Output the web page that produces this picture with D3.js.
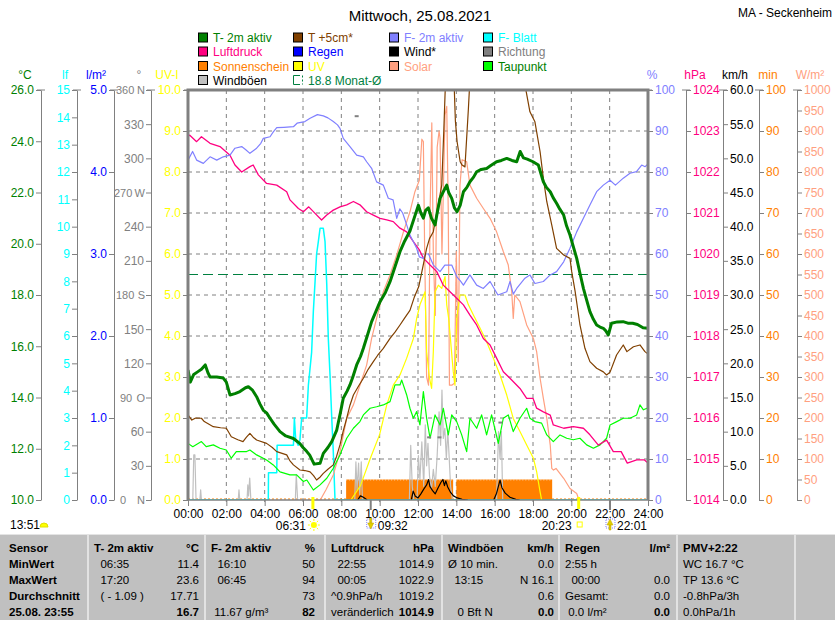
<!DOCTYPE html>
<html>
<head>
<meta charset="utf-8">
<script src="https://cdn.jsdelivr.net/npm/d3@7"></script>
<style>
  body { margin: 0; background: #fff; }
  svg text { font-family: "Liberation Sans", Arial, sans-serif; font-size: 12px; }
  .tbl text { font-size: 11.5px; }
</style>
</head>
<body>
<script>
// ---- data (hour of day, value) ----
const t2m = [[0,15.07],[0.12,14.6],[0.3,14.9],[0.5,15.0],[0.7,15.1],[0.9,15.27],[1.05,14.95],[1.15,14.8],[1.5,14.8],[1.84,14.76],[2.0,14.6],[2.19,14.1],[2.45,14.15],[2.71,14.23],[3.0,14.38],[3.15,14.42],[3.35,14.3],[3.58,14.03],[3.75,13.75],[3.93,13.5],[4.1,13.4],[4.28,13.19],[4.5,12.95],[4.8,12.67],[5.1,12.5],[5.5,12.4],[5.84,12.2],[6.0,12.05],[6.19,11.9],[6.35,11.75],[6.58,11.4],[6.89,11.43],[7.06,11.82],[7.3,12.05],[7.5,12.28],[7.76,12.73],[7.95,13.4],[8.1,13.97],[8.3,14.25],[8.45,14.49],[8.6,14.8],[8.8,15.27],[9.0,15.6],[9.15,15.92],[9.35,16.4],[9.58,16.96],[9.8,17.35],[10.02,17.74],[10.3,18.1],[10.54,18.52],[10.8,19.1],[11.06,19.69],[11.3,20.1],[11.58,20.5],[11.8,21.0],[12.02,21.5],[12.15,21.2],[12.28,21.0],[12.4,21.3],[12.54,21.4],[12.7,21.0],[12.89,20.73],[13.0,21.2],[13.15,21.77],[13.3,22.0],[13.5,22.29],[13.6,22.0],[13.76,21.77],[13.9,21.4],[14.04,21.25],[14.2,21.5],[14.37,22.03],[14.55,22.2],[14.71,22.42],[14.9,22.6],[15.06,22.81],[15.3,22.9],[15.58,22.94],[15.8,23.05],[16.1,23.2],[16.35,23.25],[16.63,23.33],[16.9,23.25],[17.15,23.2],[17.33,23.6],[17.5,23.35],[17.7,23.3],[18.0,23.2],[18.28,23.07],[18.54,22.42],[18.7,22.2],[18.9,22.03],[19.05,21.8],[19.23,21.58],[19.4,21.35],[19.6,21.12],[19.75,20.7],[19.93,20.34],[20.1,19.9],[20.28,19.43],[20.45,18.85],[20.63,18.26],[20.8,17.8],[20.97,17.35],[21.15,17.05],[21.32,16.83],[21.5,16.75],[21.67,16.7],[21.8,16.6],[21.93,16.44],[22.1,16.9],[22.4,16.95],[22.7,16.96],[22.95,16.9],[23.2,16.9],[23.45,16.85],[23.74,16.72],[24,16.7]];

const t5cm = [[0,13.32],[0.2,13.12],[0.4,13.2],[0.7,13.19],[0.85,13.06],[1.32,12.86],[1.7,12.82],[2.0,12.8],[2.26,12.47],[2.6,12.35],[2.87,12.28],[3.05,12.45],[3.23,12.6],[3.4,12.45],[3.58,12.34],[4.1,12.21],[4.4,12.05],[4.63,11.89],[5.15,11.76],[5.3,11.55],[5.5,11.37],[5.84,11.17],[6.1,11.15],[6.37,11.1],[6.55,10.95],[6.71,10.78],[6.9,10.9],[7.06,11.04],[7.3,11.2],[7.58,11.37],[7.75,11.7],[7.93,12.15],[8.1,12.7],[8.28,13.19],[8.45,13.7],[8.63,14.1],[8.9,14.45],[9.15,14.75],[9.4,15.1],[9.67,15.4],[9.9,15.65],[10.19,15.92],[10.54,16.31],[10.8,16.55],[11.06,16.83],[11.3,17.1],[11.58,17.4],[11.8,17.9],[12.04,18.33],[12.2,18.9],[12.45,19.82],[12.6,20.2],[12.8,20.47],[13.0,21.3],[13.24,22.29],[13.35,24.5],[13.41,25.8],[13.5,27.5],[13.7,28.5],[13.85,27],[13.95,24.8],[14.04,23.98],[14.2,23.2],[14.3,23.07],[14.45,23.0],[14.63,25.28],[14.75,27.0],[15.0,29.5],[15.5,31],[16.0,32],[16.5,31.5],[17.0,30],[17.4,28],[17.58,26.2],[17.84,25.15],[18.1,24.76],[18.37,23.59],[18.54,22.55],[18.72,21.64],[18.98,20.73],[19.23,19.82],[19.6,19.56],[19.93,19.43],[20.02,18.91],[20.2,18.13],[20.45,16.83],[20.71,15.92],[20.97,15.4],[21.32,15.14],[21.67,15.0],[21.84,14.88],[22.02,14.99],[22.36,15.66],[22.71,16.05],[22.9,15.79],[23.24,15.98],[23.58,16.05],[23.84,15.79],[24,15.7]];

const humidity = [[0,82.9],[0.24,85.0],[0.45,82.9],[0.8,82.1],[1.15,83.7],[1.5,82.9],[1.84,83.7],[2.19,84.1],[2.45,85.8],[2.8,86.2],[3.0,85.5],[3.23,84.55],[3.58,85.8],[3.8,87.0],[3.93,88.2],[4.28,88.6],[4.45,89.8],[4.63,90.8],[5.0,90.9],[5.5,91.05],[5.69,91.9],[6.1,92.3],[6.37,93.1],[6.75,94],[7.06,93.7],[7.3,93.2],[7.58,92.3],[7.8,91.5],[7.93,90.65],[8.1,88.2],[8.45,86.2],[8.8,84.1],[9.15,83.7],[9.32,82.5],[9.58,80.9],[9.84,77.6],[10.19,76.8],[10.45,73.6],[10.7,73.2],[10.89,68.7],[11.05,71],[11.2,70],[11.41,67.1],[11.58,64.6],[11.76,63],[11.93,61.4],[12.07,59.3],[12.28,58.9],[12.4,60],[12.55,60],[12.8,57.3],[13.15,55.7],[13.4,57.3],[13.76,57.3],[14.02,54.5],[14.2,53.5],[14.37,52.4],[14.71,54.9],[15.06,52.4],[15.41,51.6],[15.76,53.3],[16.17,50],[16.63,50.8],[16.8,53.3],[16.97,50.2],[17.15,51.6],[17.58,54.1],[17.84,54.9],[18.1,52.8],[18.54,53.3],[18.9,54.9],[19.23,55.7],[19.6,58.1],[19.93,61.4],[20.28,65.4],[20.63,68.7],[20.97,71.95],[21.32,75.2],[21.67,76.8],[22.02,78],[22.3,76.8],[22.71,78.5],[23.06,79.7],[23.4,80.1],[23.67,81.7],[23.85,81.3],[24,82]];

const pressure = [[0,1022.86],[0.08,1022.9],[0.45,1022.74],[0.7,1022.86],[1.15,1022.7],[1.67,1022.62],[2.19,1022.41],[2.45,1022.17],[2.8,1022.0],[3.23,1022.13],[3.4,1022.17],[3.67,1021.93],[4.1,1021.72],[4.63,1021.68],[5.15,1021.52],[5.32,1021.32],[5.76,1021.11],[6.02,1021.03],[6.3,1021.15],[6.63,1020.99],[6.97,1020.83],[7.24,1020.95],[7.58,1021.07],[7.93,1021.15],[8.28,1021.2],[8.63,1021.28],[8.97,1021.2],[9.32,1021.03],[9.67,1020.95],[10.02,1020.87],[10.37,1020.83],[10.71,1020.79],[11.06,1020.63],[11.41,1020.54],[11.76,1020.3],[12.07,1020.1],[12.28,1019.9],[12.63,1019.73],[12.98,1019.57],[13.32,1019.24],[13.67,1019.08],[14.02,1018.92],[14.37,1018.76],[14.71,1018.51],[15.06,1018.27],[15.41,1017.94],[15.76,1017.78],[16.1,1017.46],[16.45,1017.13],[16.8,1016.97],[17.32,1016.72],[17.67,1016.48],[18.0,1016.48],[18.19,1016.24],[18.54,1016.15],[18.9,1016.07],[19.06,1015.83],[19.6,1015.75],[20.1,1015.79],[20.63,1015.75],[20.97,1015.59],[21.41,1015.34],[21.84,1015.46],[22.19,1015.18],[22.6,1015.18],[22.92,1014.9],[23.41,1014.98],[23.8,1014.98],[24,1014.9]];

const dewpoint = [[0,12.21],[0.25,12.08],[0.7,12.28],[0.95,12.08],[1.32,12.15],[1.67,12.02],[2.0,11.95],[2.26,11.63],[2.52,11.89],[3.06,11.89],[3.23,11.95],[3.58,11.76],[4.1,11.56],[4.45,11.37],[4.8,11.1],[5.32,10.98],[5.67,10.98],[6.02,10.72],[6.2,10.78],[6.54,10.39],[6.89,10.59],[7.24,10.85],[7.58,11.24],[7.93,11.76],[8.28,12.41],[8.63,12.8],[8.97,13.06],[9.15,13.32],[9.5,13.58],[9.84,13.64],[10.19,13.71],[10.54,13.84],[10.8,14.49],[11.06,14.49],[11.15,14.68],[11.41,14.1],[11.58,13.58],[11.76,13.19],[11.93,13.45],[12.1,12.93],[12.28,14.23],[12.45,13.19],[12.63,12.41],[12.89,13.32],[13.15,12.93],[13.32,13.58],[13.58,12.54],[13.76,13.32],[14.02,13.06],[14.28,12.54],[14.54,11.89],[14.71,13.19],[15.06,12.8],[15.32,13.32],[15.58,12.54],[15.84,13.32],[16.19,12.21],[16.45,13.19],[16.71,13.32],[16.97,12.67],[17.32,13.19],[17.67,13.58],[17.84,13.19],[18.1,13.06],[18.45,13.0],[18.72,12.54],[19.06,12.28],[19.41,12.54],[19.76,12.41],[20.1,12.35],[20.45,12.41],[20.8,12.15],[21.15,12.02],[21.5,12.15],[21.84,12.41],[22.02,12.93],[22.37,13.06],[22.71,13.19],[23.06,13.19],[23.41,13.32],[23.58,13.71],[23.76,13.52],[24,13.6]];

const leafWet = [[0,0],[4.19,0],[4.2,1.0],[4.63,1.0],[4.65,2.0],[5.5,2.0],[5.55,3.0],[5.62,2.2],[5.75,2.0],[5.84,2.2],[5.93,3.0],[6.19,3.0],[6.28,4.2],[6.45,5.4],[6.54,6.9],[6.63,8.0],[6.71,9.0],[6.8,9.45],[6.89,9.94],[7.06,9.94],[7.15,9.45],[7.24,7.87],[7.32,5.92],[7.41,4.57],[7.5,3.0],[7.58,1.77],[7.67,0],[24,0]];

const uvIndex = [[8.5,0],[9.0,0.35],[9.5,1.0],[10.0,1.6],[10.37,2.32],[10.71,2.8],[11.06,3.05],[11.41,3.46],[11.76,3.94],[11.93,4.43],[12.1,4.76],[12.37,5.08],[12.45,3.62],[12.6,2.97],[12.71,2.72],[12.8,3.62],[12.89,5.08],[13.06,5.24],[13.24,5.16],[13.41,5.45],[13.5,4.76],[13.6,4.43],[13.84,3.13],[13.93,2.8],[14.02,4.43],[14.19,5.0],[14.45,5.0],[14.63,4.76],[14.89,4.51],[15.24,4.19],[15.58,3.86],[15.93,3.46],[16.28,3.05],[16.63,2.56],[16.97,1.99],[17.32,1.67],[17.67,1.34],[18.02,1.02],[18.19,0.69],[18.37,0.2],[18.45,0]];

const solar = [[6.9,0],[7.2,25],[7.58,61],[7.93,118],[8.28,199],[8.63,232],[8.97,280],[9.32,329],[9.58,394],[9.84,443],[10.19,508],[10.54,549],[10.89,598],[11.24,654],[11.58,703],[11.84,752],[12.07,780],[12.2,880],[12.28,874],[12.35,600],[12.45,300],[12.55,280],[12.63,700],[12.72,920],[12.8,600],[12.9,450],[13.0,860],[13.1,900],[13.15,883],[13.25,600],[13.32,750],[13.41,939],[13.5,960],[13.58,700],[13.64,280],[13.76,280],[13.9,285],[14.0,606],[14.1,337],[14.19,768],[14.3,830],[14.54,825],[14.71,768],[15.06,736],[15.41,711],[15.76,687],[16.1,654],[16.45,606],[16.71,573],[16.89,508],[16.97,443],[17.05,500],[17.32,484],[17.67,427],[18.02,394],[18.19,362],[18.37,297],[18.54,248],[18.72,199],[18.9,134],[18.98,77],[19.07,73],[19.2,77],[19.6,53],[19.93,28],[20.28,16],[20.4,0]];

// null = no value (line gap)
const wind = [[8.85,0],[9.0,0.6],[9.15,0.4],[9.35,0],[9.36,null],[11.65,0],[11.75,1.3],[11.85,0.6],[12.0,0.3],[12.15,0.9],[12.3,1.6],[12.45,2.2],[12.55,3.0],[12.62,2.0],[12.75,1.4],[12.9,0.9],[13.05,1.8],[13.2,2.6],[13.3,3.0],[13.38,2.1],[13.45,2.8],[13.55,1.9],[13.7,1.1],[13.85,0.6],[14.05,0.3],[14.3,0.1],[14.6,0],[14.61,null],[15.95,0],[16.1,1.0],[16.28,2.9],[16.38,1.8],[16.55,1.0],[16.8,0.4],[17.1,0.1],[17.3,0]];

const gusts = [[0.25,0],[0.3,6.6],[0.36,6.6],[0.42,0],[0.43,null],[0.62,0],[0.66,1.5],[0.7,0],[0.71,null],[2.62,0],[2.66,1.5],[2.7,0],[2.71,null],[3.08,0],[3.12,2.2],[3.16,0.6],[3.22,3.2],[3.28,0],[3.29,null],[5.6,0],[5.65,3.7],[5.72,0],[5.73,null],[8.7,0],[8.76,5.6],[8.82,1.5],[8.9,5.4],[8.96,0.8],[9.04,5.6],[9.1,0],[9.11,null],[11.55,0],[11.62,8.0],[11.7,2.0],[11.78,0],[11.79,null],[11.95,0],[12.02,6.5],[12.1,3],[12.2,8.5],[12.3,2],[12.38,11.0],[12.45,5],[12.52,8.3],[12.6,3.5],[12.7,1.5],[12.8,4.5],[12.9,2],[13.0,6.5],[13.1,12.9],[13.18,8],[13.25,16.1],[13.32,9],[13.4,10.5],[13.48,6],[13.55,10.2],[13.62,6.6],[13.7,2],[13.8,0],[13.81,null],[16.1,0],[16.2,10.0],[16.28,6],[16.35,10.0],[16.42,0]];

const windDir = [[8.8,337],[12.58,55],[13.12,55],[16.3,68]];

// sunshine: minutes of sun per 5-minute slot
const sunFrom = ["08:15", "14:00"];
const sunTo = ["13:50", "19:00"];
const sunMinutes = [5, 5];

const monthAvgT = 18.8;

const astroTimes = ["06:31", "09:32", "20:23", "22:01"];
const astroKinds = ["sunrise", "moonset", "sunset", "moonrise"];

const legendNames = ["T- 2m aktiv", "Luftdruck", "Sonnenschein", "Windböen",
                     "T +5cm*", "Regen", "UV", "18.8 Monat-Ø",
                     "F- 2m aktiv", "Wind*", "Solar",
                     "F- Blatt", "Richtung", "Taupunkt"];
const legendColors = ["#008000", "#ff0080", "#ff8000", "#c0c0c0",
                      "#804000", "#0000ff", "#ffff00", null,
                      "#8080ff", "#000000", "#ffa080",
                      "#00ffff", "#808080", "#00ff00"];
const legendText = ["#008000", "#ff0080", "#ff8000", "#000000",
                    "#804000", "#0000ff", "#ffff00", "#008040",
                    "#8080ff", "#000000", "#ffa080",
                    "#00ffff", "#808080", "#008000"];

const hourTicks = d3.range(0, 25, 2);
const dirNames = {0: "N", 90: "O", 180: "S", 270: "W", 360: "N"};

const tableFirstCol = ["Sensor", "MinWert", "MaxWert", "Durchschnitt", "25.08. 23:55"];
const tableCols = [
  [["T- 2m aktiv", "°C"], ["  06:35", "11.4"], ["  17:20", "23.6"], ["  ( - 1.09 )", "17.71"], ["", "16.7"]],
  [["F- 2m aktiv", "%"], ["  16:10", "50"], ["  06:45", "94"], ["", "73"], [" 11.67 g/m³", "82"]],
  [["Luftdruck", "hPa"], ["  22:55", "1014.9"], ["  00:05", "1022.9"], ["^0.9hPa/h", "1019.2"], ["veränderlich", "1014.9"]],
  [["Windböen", "km/h"], ["Ø 10 min.", "0.0"], ["  13:15", "N 16.1"], ["", "0.6"], ["   0 Bft N", "0.0"]],
  [["Regen", "l/m²"], ["2:55 h", ""], ["  00:00", "0.0"], ["Gesamt:", "0.0"], [" 0.0 l/m²", "0.0"]],
  [["PMV+2:22", ""], ["WC 16.7 °C", ""], ["TP 13.6 °C", ""], ["-0.8hPa/3h", ""], ["0.0hPa/1h", ""]]
];

// ---- layout ----
const width = 835, height = 620;
const plot = {left: 188, right: 648, top: 90, bottom: 500};
const toHour = s => { const [h, m] = s.split(":").map(Number); return h + m / 60; };

const svg = d3.select("body").append("svg")
  .attr("width", width).attr("height", height);

const x = d3.scaleLinear().domain([0, 24]).range([plot.left, plot.right]);
const yRange = [plot.bottom, plot.top];
const yT = d3.scaleLinear().domain([10, 26]).range(yRange);
const yLf = d3.scaleLinear().domain([0, 15]).range(yRange);
const yRain = d3.scaleLinear().domain([0, 5]).range(yRange);
const yDir = d3.scaleLinear().domain([0, 360]).range(yRange);
const yUV = d3.scaleLinear().domain([0, 10]).range(yRange);
const yHum = d3.scaleLinear().domain([0, 100]).range(yRange);
const yP = d3.scaleLinear().domain([1014, 1024]).range(yRange);
const yKmh = d3.scaleLinear().domain([0, 60]).range(yRange);
const yMin = d3.scaleLinear().domain([0, 100]).range(yRange);
const ySol = d3.scaleLinear().domain([0, 1000]).range(yRange);

// title
svg.append("text").attr("x", 420).attr("y", 21).attr("text-anchor", "middle")
  .style("font-size", "15px").text("Mittwoch, 25.08.2021");
svg.append("text").attr("x", 832).attr("y", 17).attr("text-anchor", "end")
  .text("MA - Seckenheim");

// legend (4 columns)
const legCol = [198, 293, 389, 483];
const legRow = [37.5, 51.5, 66, 80];
const legIndex = [[0,0],[0,1],[0,2],[0,3],[1,0],[1,1],[1,2],[1,3],[2,0],[2,1],[2,2],[3,0],[3,1],[3,2]];
legendNames.forEach((name, i) => {
  const [c, r] = legIndex[i];
  const g = svg.append("g").attr("transform", `translate(${legCol[c]},${legRow[r]})`);
  if (legendColors[i]) {
    g.append("rect").attr("x", 0.5).attr("y", -4.5).attr("width", 9).attr("height", 9)
      .attr("fill", legendColors[i]).attr("stroke", "#000");
  } else {
    g.append("path").attr("d", "M7,-4.5H0.5V4.5H7").attr("fill", "none").attr("stroke", "#008040");
    g.append("path").attr("d", "M9.5,-4.5V4.5").attr("fill", "none").attr("stroke", "#008040")
      .attr("stroke-dasharray", "2,2");
  }
  g.append("text").attr("x", 15).attr("y", 4.5).attr("fill", legendText[i]).text(name);
});

// ---- axes ----
const axisDefs = [
  {pos: 41, side: "left", scale: yT, ticks: d3.range(10, 27, 2), fmt: d3.format(".1f"), color: "#008000", unit: "°C", ux: 25},
  {pos: 77, side: "left", scale: yLf, ticks: d3.range(0, 16), fmt: d3.format("d"), color: "#00ffff", unit: "lf", ux: 65},
  {pos: 114, side: "left", scale: yRain, ticks: d3.range(0, 6), fmt: d3.format(".1f"), color: "#0000ff", unit: "l/m²", ux: 96},
  {pos: 151, side: "left", scale: yDir, ticks: d3.range(0, 361, 30), fmt: d => d, color: "#808080", unit: "°", ux: 139, dir: true},
  {pos: 188, side: "left", scale: yUV, ticks: d3.range(0, 11), fmt: d3.format(".1f"), color: "#ffff00", unit: "UV-I", ux: 167},
  {pos: 648, side: "right", scale: yHum, ticks: d3.range(0, 101, 10), fmt: d3.format("d"), color: "#8080ff", unit: "%", ux: 652},
  {pos: 686, side: "right", scale: yP, ticks: d3.range(1014, 1025), fmt: d3.format("d"), color: "#ff0080", unit: "hPa", ux: 695},
  {pos: 723, side: "right", scale: yKmh, ticks: d3.range(0, 61, 5), fmt: d3.format(".1f"), color: "#000000", unit: "km/h", ux: 735},
  {pos: 759, side: "right", scale: yMin, ticks: d3.range(0, 101, 10), fmt: d3.format("d"), color: "#ff8000", unit: "min", ux: 768},
  {pos: 797, side: "right", scale: ySol, ticks: d3.range(0, 1001, 50), fmt: d3.format("d"), color: "#ffa080", unit: "W/m²", ux: 810}
];

axisDefs.forEach(a => {
  const ax = (a.side === "left" ? d3.axisLeft(a.scale) : d3.axisRight(a.scale))
    .tickValues(a.ticks).tickFormat(a.fmt).tickSize(5).tickSizeOuter(0).tickPadding(2);
  const g = svg.append("g").attr("transform", `translate(${a.pos},0)`).call(ax);
  g.attr("font-family", null).attr("font-size", null);
  g.selectAll("path.domain, line").attr("stroke", "#808080");
  g.selectAll("text").attr("fill", a.color);
  g.append("line").attr("x1", -4).attr("x2", 4).attr("y1", plot.top).attr("y2", plot.top)
    .attr("stroke", "#808080");
  svg.append("text").attr("x", a.ux).attr("y", 79).attr("text-anchor", "middle")
    .attr("fill", a.color).text(a.unit);

  // compass letters on the direction axis: number left, letter right
  if (a.dir) {
    g.selectAll("g.tick text").each(function (d) {
      if (dirNames[d] === undefined) return;
      const t = d3.select(this).text("").style("font-size", "11px");
      t.append("tspan").attr("x", d === 270 ? -37 : (d < 100 ? -31 : -35))
        .attr("text-anchor", "start").text(d);
      t.append("tspan").attr("x", -6).attr("text-anchor", "end").text(dirNames[d]);
    });
  }
});

// ---- plot area ----
svg.append("clipPath").attr("id", "clip").append("rect")
  .attr("x", plot.left).attr("y", plot.top)
  .attr("width", plot.right - plot.left).attr("height", plot.bottom - plot.top);

const grid = svg.append("g").attr("stroke", "#808080").attr("stroke-dasharray", "4,4");
grid.selectAll("line.h").data(d3.range(1, 10)).join("line")
  .attr("x1", plot.left).attr("x2", plot.right)
  .attr("y1", d => yUV(d)).attr("y2", d => yUV(d));
grid.selectAll("line.v").data(hourTicks.slice(1, -1)).join("line")
  .attr("x1", d => x(d)).attr("x2", d => x(d))
  .attr("y1", plot.top).attr("y2", plot.bottom + 6);

const area = svg.append("g").attr("clip-path", "url(#clip)");

// sunshine blocks
sunFrom.forEach((f, i) => {
  area.append("rect").attr("x", x(toHour(f))).attr("width", x(toHour(sunTo[i])) - x(toHour(f)))
    .attr("y", yMin(sunMinutes[i])).attr("height", yMin(0) - yMin(sunMinutes[i]))
    .attr("fill", "#ff8000");
  area.append("line").attr("x1", x(toHour(f))).attr("x2", x(toHour(sunTo[i])))
    .attr("y1", yMin(sunMinutes[i]) + 0.5).attr("y2", yMin(sunMinutes[i]) + 0.5)
    .attr("stroke", "#fff").attr("stroke-opacity", 0.6).attr("stroke-dasharray", "1,2");
});
area.append("line").attr("x1", x(0)).attr("x2", x(24))
  .attr("y1", yMin(0) - 1).attr("y2", yMin(0) - 1)
  .attr("stroke", "#ff8000").attr("stroke-dasharray", "2,2");

// month average temperature
area.append("line").attr("x1", x(0)).attr("x2", x(24))
  .attr("y1", yT(monthAvgT)).attr("y2", yT(monthAvgT))
  .attr("stroke", "#008040").attr("stroke-width", 1.2).attr("stroke-dasharray", "10,5");

function drawLine(data, yScale, color, w) {
  const line = d3.line().defined(d => d[1] !== null).x(d => x(d[0])).y(d => yScale(d[1]));
  area.append("path").datum(data).attr("d", line)
    .attr("fill", "none").attr("stroke", color).attr("stroke-width", w)
    .attr("stroke-linejoin", "round");
}

drawLine(gusts, yKmh, "#c0c0c0", 1.2);
drawLine(leafWet, yLf, "#00ffff", 1.5);
drawLine(solar, ySol, "#ffa080", 1.2);
drawLine(uvIndex, yUV, "#ffff00", 1.2);
drawLine(dewpoint, yT, "#00ff00", 1.2);
drawLine(pressure, yP, "#ff0080", 1.3);
drawLine(humidity, yHum, "#8080ff", 1.2);
drawLine(t5cm, yT, "#804000", 1.2);
drawLine(wind, yKmh, "#000000", 1.2);
drawLine(t2m, yT, "#008000", 3);

area.selectAll("rect.dir").data(windDir).join("rect")
  .attr("x", d => x(d[0]) - 2).attr("y", d => yDir(d[1]) - 1)
  .attr("width", 4).attr("height", 2).attr("fill", "#808080");

// frame
svg.append("line").attr("x1", plot.left).attr("x2", plot.right)
  .attr("y1", plot.bottom).attr("y2", plot.bottom).attr("stroke", "#808080").attr("stroke-width", 1.5);
svg.append("path")
  .attr("d", `M${plot.left},${plot.bottom}V${plot.top}H${plot.right}V${plot.bottom}`)
  .attr("fill", "none").attr("stroke", "#808080").attr("stroke-width", 3);

// time axis
const tx = d3.axisBottom(x).tickValues(hourTicks).tickSize(6).tickSizeOuter(0)
  .tickFormat(d => String(d).padStart(2, "0") + ":00");
const txg = svg.append("g").attr("transform", `translate(0,${plot.bottom})`).call(tx);
txg.attr("font-family", null).attr("font-size", null);
txg.select(".domain").remove();
txg.selectAll("line").attr("stroke", "#808080");
txg.selectAll("text").attr("fill", "#000").attr("dy", null).attr("y", 17.5);

// sun and moon times
astroTimes.forEach((t, i) => {
  const kind = astroKinds[i];
  const px = x(toHour(t));
  const g = svg.append("g");
  if (kind === "sunrise" || kind === "sunset") {
    g.append("rect").attr("x", px - 1.5).attr("y", 497).attr("width", 3).attr("height", 12).attr("fill", "#ffff00");
    g.append("text").attr("x", px - 7).attr("y", 529.5).attr("text-anchor", "end").text(t);
    if (kind === "sunrise") {
      g.append("circle").attr("cx", px + 1).attr("cy", 525).attr("r", 3).attr("fill", "#ffff00");
      d3.range(0, 360, 45).forEach(a => {
        const r = a * Math.PI / 180;
        g.append("line").attr("x1", px + 1 + 4 * Math.cos(r)).attr("y1", 525 + 4 * Math.sin(r))
          .attr("x2", px + 1 + 6 * Math.cos(r)).attr("y2", 525 + 6 * Math.sin(r))
          .attr("stroke", "#ffff00");
      });
    } else {
      g.append("rect").attr("x", px - 1.5).attr("y", 522).attr("width", 5).attr("height", 5)
        .attr("fill", "none").attr("stroke", "#ffff00");
    }
  } else {
    g.append("rect").attr("x", px - 1).attr("y", 500).attr("width", 2).attr("height", 10).attr("fill", "#808080");
    g.append("rect").attr("x", px - 4).attr("y", 519).attr("width", 9).attr("height", 9)
      .attr("fill", "none").attr("stroke", "#8080ff").attr("stroke-dasharray", "1,1");
    const up = kind === "moonrise";
    g.append("path")
      .attr("d", up ? `M${px - 3},${525}L${px},${519}L${px + 3},${525}ZM${px - 1},525V530H${px + 1}V525`
                    : `M${px - 3},${523}L${px},${529}L${px + 3},${523}ZM${px - 1},523V518H${px + 1}V523`)
      .attr("fill", "#e0d000").attr("stroke", "#c0a000").attr("stroke-width", 0.5);
    g.append("text").attr("x", px + 7).attr("y", 529.5).text(t);
  }
});

svg.append("text").attr("x", 10).attr("y", 529).text("13:51");
svg.append("path").attr("d", "M40,527A4,4 0 0 1 48,527Z").attr("fill", "#ffff00")
  .attr("stroke", "#e0e000");

// ---- table ----
const tbl = svg.append("g").attr("class", "tbl");
tbl.append("rect").attr("x", 0).attr("y", 534).attr("width", width).attr("height", 86).attr("fill", "#c0c0c0");
tbl.append("line").attr("x1", 0).attr("x2", width).attr("y1", 534.5).attr("y2", 534.5).attr("stroke", "#e4e4e4");
const colEdges = [0, 88, 205, 325, 442, 559, 677, 795];
colEdges.slice(1).forEach(cx => {
  tbl.append("line").attr("x1", cx).attr("x2", cx).attr("y1", 535).attr("y2", height)
    .attr("stroke", "#eeeeee").attr("stroke-width", 1.5);
});
const rowY = [552, 568, 584, 600, 616];
tableFirstCol.forEach((t, r) => {
  tbl.append("text").attr("x", 9).attr("y", rowY[r]).attr("font-weight", "bold").text(t);
});
const rightPad = [6, 10, 8, 5, 7, 6];
tableCols.forEach((col, c) => {
  const x0 = colEdges[c + 1], x1 = colEdges[c + 2];
  col.forEach(([left, right], r) => {
    tbl.append("text").attr("x", x0 + 6).attr("y", rowY[r])
      .attr("font-weight", r === 0 ? "bold" : null)
      .style("white-space", "pre").text(left);
    if (right) {
      tbl.append("text").attr("x", x1 - rightPad[c]).attr("y", rowY[r])
        .attr("text-anchor", "end")
        .attr("font-weight", r === 0 || r === 4 ? "bold" : null)
        .text(right);
    }
  });
});
</script>
</body>
</html>
